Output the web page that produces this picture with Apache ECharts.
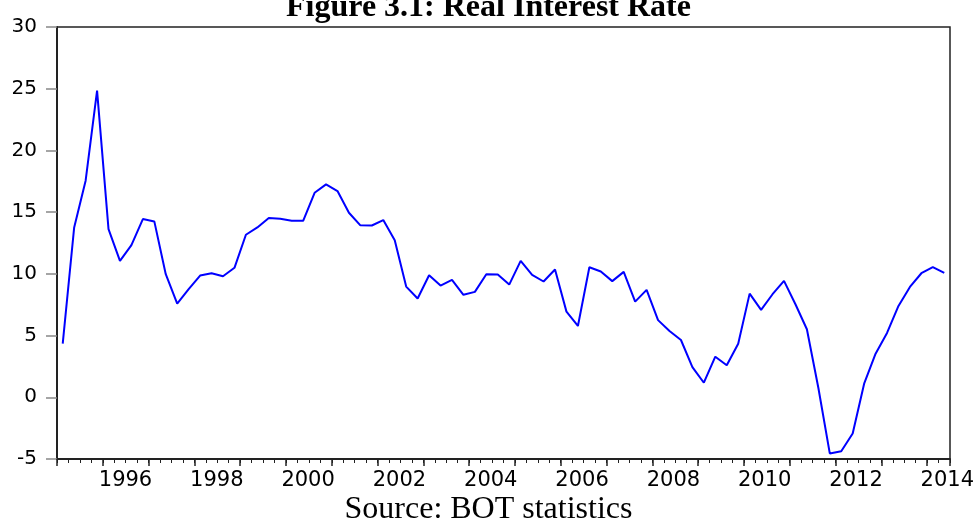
<!DOCTYPE html>
<html>
<head>
<meta charset="utf-8">
<script src="https://cdn.jsdelivr.net/npm/echarts@6/dist/echarts.min.js"></script>
<style>
html,body{margin:0;padding:0;background:#fff;}
#chart{width:977px;height:524px;}
</style>
</head>
<body>
<div id="chart"></div>
<script>
// Quarterly real interest rate, 1995Q1 - 2014Q2
var quarters = [];
for (var y = 1995; y <= 2014; y++) {
  for (var q = 1; q <= 4; q++) {
    if (y === 2014 && q > 2) break;
    quarters.push(y + 'Q' + q);
  }
}
var years = [];
for (var y2 = 1995; y2 <= 2014; y2++) years.push(String(y2));

var realRate = [
  4.34, 13.76, 17.55, 24.85, 13.63, 11.05, 12.33, 14.44, 14.25, 9.97,
  7.59, 8.76, 9.86, 10.05, 9.81, 10.49, 13.17, 13.76, 14.52, 14.46,
  14.30, 14.30, 16.57, 17.25, 16.71, 14.95, 13.93, 13.92, 14.36, 12.73,
  8.97, 8.00, 9.89, 9.05, 9.51, 8.30, 8.54, 9.97, 9.94, 9.13,
  11.05, 9.92, 9.38, 10.35, 6.94, 5.78, 10.54, 10.19, 9.41, 10.16,
  7.75, 8.70, 6.25, 5.37, 4.64, 2.45, 1.18, 3.29, 2.59, 4.34,
  8.40, 7.08, 8.35, 9.43, 7.54, 5.51, 0.77, -4.55, -4.37, -2.93,
  1.10, 3.53, 5.21, 7.40, 8.94, 10.05, 10.54, 10.08
];

var yTicks = { min: -5, max: 30, interval: 5 };
var titleText = 'Figure 3.1: Real Interest Rate';
var sourceText = 'Source: BOT statistics';

var chart = echarts.init(document.getElementById('chart'), null, { renderer: 'canvas' });
var option = {
  animation: false,
  backgroundColor: '#ffffff',
  grid: [
    { left: 57, right: 27, top: 27, bottom: 65, show: true, borderColor: '#222', borderWidth: 1.5, containLabel: false },
    { left: 57, right: 4.1, top: 27, bottom: 65, show: false, containLabel: false }
  ],
  xAxis: [
    {
      type: 'category', gridIndex: 0, data: quarters, boundaryGap: true,
      axisLine: { show: true, onZero: false, lineStyle: { color: '#222', width: 2 } },
      axisTick: { show: true, interval: 0, length: 4, lineStyle: { color: '#222', width: 1 } },
      axisLabel: { show: false }, splitLine: { show: false }
    },
    {
      type: 'category', gridIndex: 0, data: quarters, boundaryGap: true, position: 'bottom',
      axisLine: { show: false, onZero: false },
      axisTick: { show: true, interval: 3, length: 7, lineStyle: { color: '#222', width: 1.5 } },
      axisLabel: { show: false }, splitLine: { show: false }
    },
    {
      type: 'category', gridIndex: 1, data: years, boundaryGap: true, position: 'bottom',
      axisLine: { show: false, onZero: false }, axisTick: { show: false }, splitLine: { show: false },
      axisLabel: {
        show: true, margin: 11, color: '#000', fontFamily: 'DejaVu Sans', fontSize: 21,
        interval: function (idx, val) { return Number(val) % 2 === 0; }
      }
    }
  ],
  yAxis: [
    {
      type: 'value', gridIndex: 0, min: yTicks.min, max: yTicks.max, interval: yTicks.interval,
      axisLine: { show: true, lineStyle: { color: '#222', width: 2 } },
      axisTick: { show: true, length: 11, lineStyle: { color: '#888', width: 1.5 } },
      axisLabel: { show: true, margin: 20, color: '#000', fontFamily: 'DejaVu Sans', fontSize: 20 },
      splitLine: { show: false }
    },
    {
      type: 'value', gridIndex: 1, show: false, min: 0, max: 1
    }
  ],
  series: [
    {
      type: 'line', xAxisIndex: 0, yAxisIndex: 0, data: realRate,
      symbol: 'none', smooth: false,
      lineStyle: { color: '#0000ff', width: 2 }
    }
  ],
  graphic: [
    {
      type: 'text', left: 'center', top: -8,
      style: { text: titleText, font: 'bold 32px "Liberation Serif", "Times New Roman", serif', fill: '#000' }
    },
    {
      type: 'text', left: 'center', top: 494,
      style: { text: sourceText, font: '32px "Liberation Serif", "Times New Roman", serif', fill: '#000' }
    }
  ]
};
chart.setOption(option);
</script>
</body>
</html>
